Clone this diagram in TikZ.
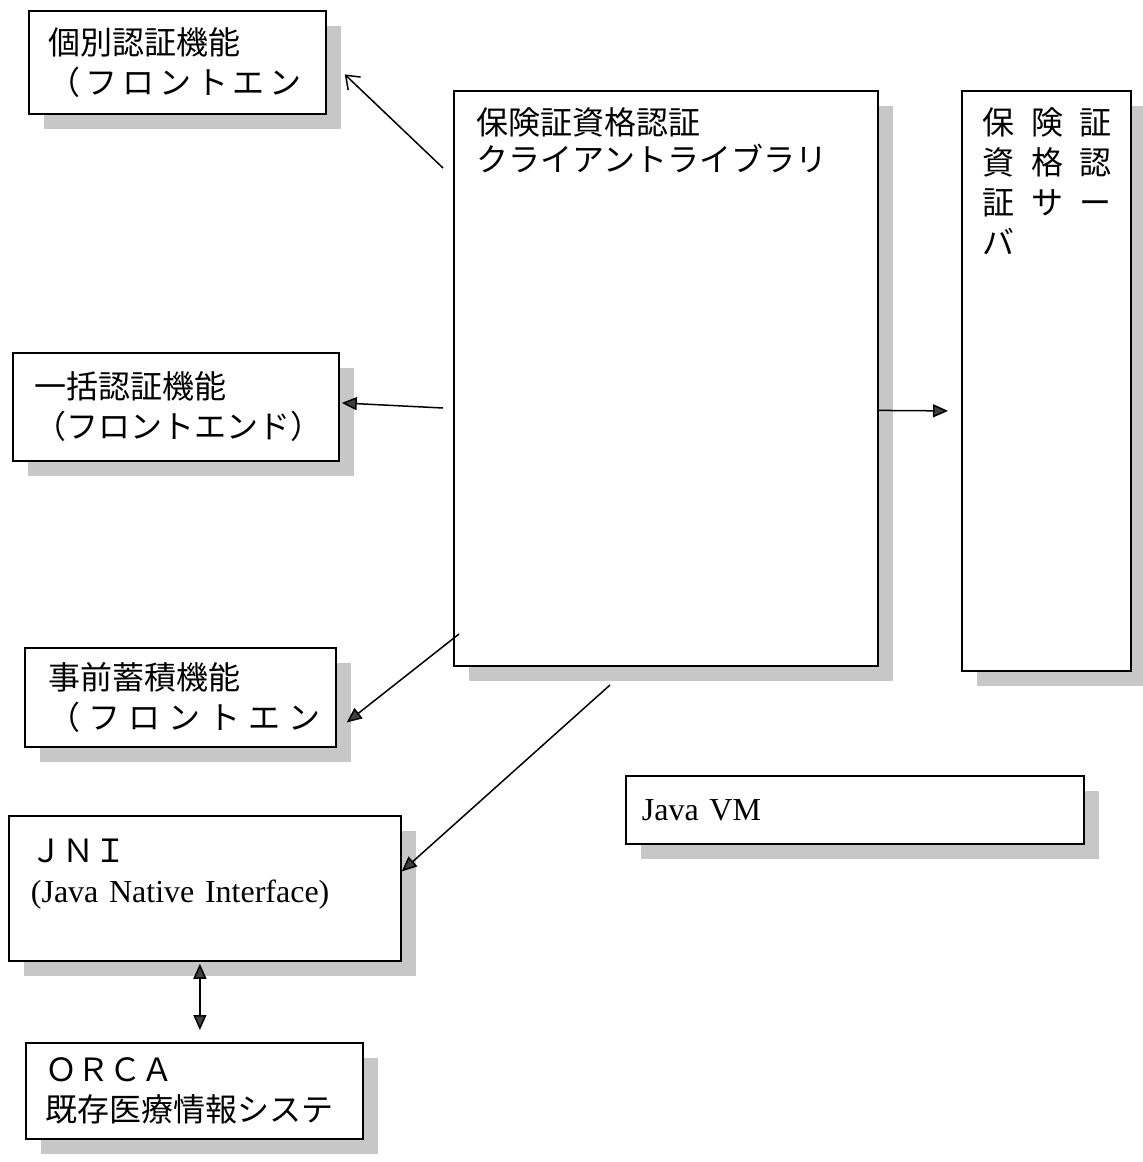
\documentclass[tikz,border=0pt]{standalone}
\usepackage{fontspec}
\setmainfont{Liberation Serif}
\newfontfamily\jp{Noto Sans CJK JP}
\newcommand{\spaced}[2]{{\addfontfeature{LetterSpace=#1}#2}}
\usetikzlibrary{arrows.meta,shadows}

\begin{document}
\begin{tikzpicture}[x=0.5pt,y=-0.5pt,
        >={Triangle[length=7.5pt,width=6.5pt,fill=black!75]},
        box/.style={draw, line width=0.9pt, fill=white, anchor=north west, align=left,
                inner ysep=0pt, font=\jp\fontsize{16}{20}\selectfont,
                drop shadow={shadow xshift=7.5pt, shadow yshift=-7.5pt, fill=black!22, opacity=1}},
        link/.style={line width=0.75pt},
        barb/.style={link, -{Straight Barb[length=6pt,width=9pt]}}]

        \useasboundingbox (0,0) rectangle (1142,1162);

        \node[box, minimum width=212pt, minimum height=287.5pt] (lib) at (453,90) {};
        \node[box, minimum width=84.5pt, minimum height=290pt] (server) at (961,90) {};

        \node[anchor=north west, inner sep=0pt, align=left, font=\jp\fontsize{16}{18.5}\selectfont]
                (libname) at (476,107) {保険証資格認証\\クライアントライブラリ};
        \node[anchor=north west, inner sep=0pt, align=left,
                font=\jp\fontsize{16}{20}\selectfont\addfontfeature{LetterSpace=52}]
                (svname) at (982,107) {保険証\\資格認\\証サー\\バ};

        \node[box, inner xsep=10pt, text width=128.5pt, minimum height=51.5pt] (indiv) at (28,10)
                {個別認証機能\\\spaced{15}{（フロントエン}};
        \node[box, inner xsep=11pt, text width=141pt, minimum height=54pt] (bulk) at (12,352)
                {一括認証機能\\（フロントエンド）};
        \node[box, inner xsep=12pt, text width=131.5pt, minimum height=49.5pt] (pre) at (24,647)
                {事前蓄積機能\\\spaced{25}{（フロントエン}};
        \node[box, inner xsep=11pt, text width=174pt, minimum height=72.5pt] (jni) at (8,815)
                {ＪＮＩ\\\mbox{\rmfamily (Java Native Interface)}\\[-8pt]\strut};
        \node[box, inner xsep=10pt, text width=148.5pt, minimum height=48pt] (orca) at (25,1042)
                {ＯＲＣＡ\\既存医療情報システ};
        \node[box, inner xsep=8pt, text width=213pt, minimum height=34pt] (jvm) at (625,775)
                {\rmfamily Java VM};

        \coordinate (fromIndiv) at (443,168);
        \coordinate (fromBulk) at (443,408);
        \coordinate (fromPre) at (459,634);
        \coordinate (fromJni) at (610,685);

        \draw[barb] (fromIndiv) -- ([xshift=9pt,yshift=-6pt]indiv.east);
        \draw[link, ->] (fromBulk) -- ([xshift=1pt,yshift=2pt]bulk.east);
        \draw[link, ->] (fromPre) -- ([xshift=5pt,yshift=-12.5pt]pre.east);
        \draw[link, ->] (fromJni) -- ([yshift=8.5pt]jni.east);
        \draw[link, ->] ([yshift=-16pt]lib.east) -- ([xshift=-6.5pt,yshift=-15pt]server.west);
        \draw[link, <->] ([xshift=-2.5pt,yshift=-1pt]jni.south) -- ([xshift=2.75pt,yshift=6pt]orca.north);

\end{tikzpicture}
\end{document}
